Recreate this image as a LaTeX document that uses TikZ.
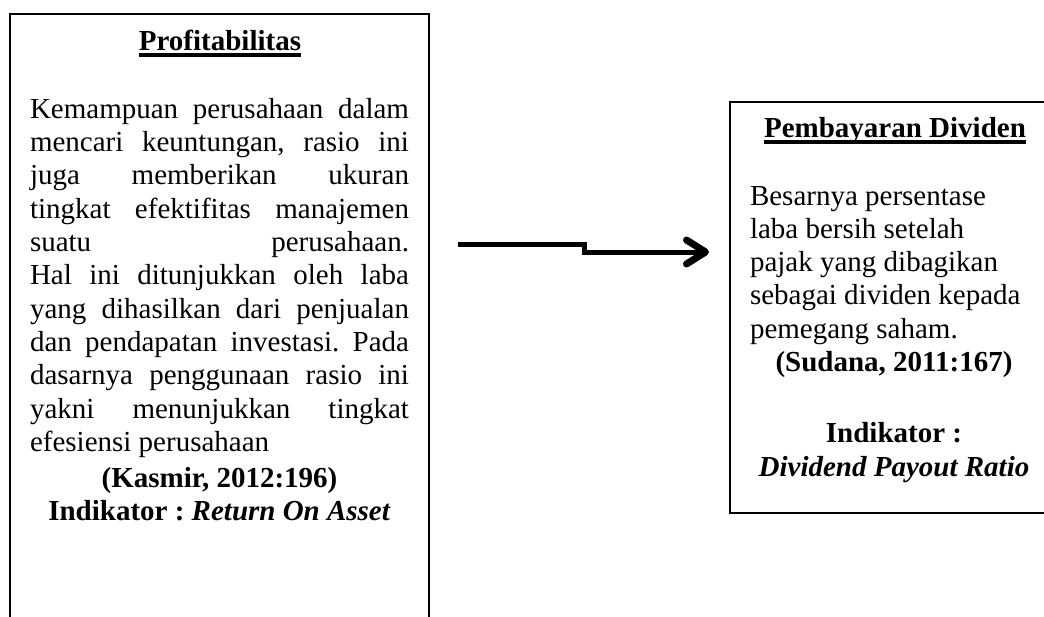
\documentclass[tikz,border=0pt]{standalone}
\usepackage{fontspec}
\setmainfont{Liberation Serif}
\usetikzlibrary{arrows.meta}
\frenchspacing
\newcommand\ulbox[1]{\setbox0\hbox{#1}\rlap{\rule[-6.5pt]{\wd0}{3.2pt}}\box0}
\newcommand\jline[1]{\makebox[\linewidth][s]{#1}}
\newcommand\cenline[1]{\makebox[\linewidth][c]{#1}}
\begin{document}
\begin{tikzpicture}[x=1pt,y=-1pt,
  box/.style={draw=black, line width=2pt, rectangle, outer sep=0pt, inner sep=0pt},
  txt/.style={inner sep=0pt, outer sep=0pt, font=\fontsize{29}{33.3}\selectfont},
  conn/.style={draw=black, line width=5pt, line join=miter,
    -{Straight Barb[length=19pt, width=24pt, line width=7pt, round]}}]
\useasboundingbox (0,0) rectangle (1044,616);
\fill[white] (0,0) rectangle (1044,616);
% boxes
\node[box, anchor=north west, minimum width=419pt, minimum height=640pt] (lbox) at (10,14) {};
\node[box, anchor=north west, minimum width=340pt, minimum height=411pt] (rbox) at (730,102) {};
% left contents
\node[txt, anchor=base] (ltitle) at (220,50) {\bfseries\ulbox{Profitabilitas}};
\node[txt, anchor=base west] (lbody) at (30,118.3) {\parbox[t]{379pt}{\fontsize{29}{33.3}\selectfont\frenchspacing
\jline{Kemampuan perusahaan dalam}\\
\jline{mencari keuntungan, rasio ini}\\
\jline{juga memberikan ukuran}\\
\jline{tingkat efektifitas manajemen}\\
\jline{suatu perusahaan.}\\
\jline{Hal ini ditunjukkan oleh laba}\\
\jline{yang dihasilkan dari penjualan}\\
\jline{dan pendapatan investasi. Pada}\\
\jline{dasarnya penggunaan rasio ini}\\
\jline{yakni menunjukkan tingkat}\\
efesiensi perusahaan\\[3pt]
\cenline{\bfseries (Kasmir, 2012:196)}\\
\cenline{\bfseries Indikator : \textit{Return On Asset}}}};
% right contents
\node[txt, anchor=base] (rtitle) at (895,137) {\bfseries\ulbox{Pembayaran Dividen}};
\node[txt, anchor=base west] (rbody) at (750,205) {\parbox[t]{288pt}{\fontsize{29}{33.3}\selectfont\frenchspacing
Besarnya persentase\\
laba bersih setelah\\
pajak yang dibagikan\\
sebagai dividen kepada\\
pemegang saham.\\
\cenline{\bfseries (Sudana, 2011:167)}\\[37.3pt]
\cenline{\bfseries Indikator :}\\[1pt]
\cenline{\bfseries\itshape Dividend Payout Ratio}}};
% arrow
\coordinate (as) at (458,244);
\coordinate (ae) at (709,252);
\draw[conn] (as) -- ++(126,0) |- (ae);
\end{tikzpicture}
\end{document}
